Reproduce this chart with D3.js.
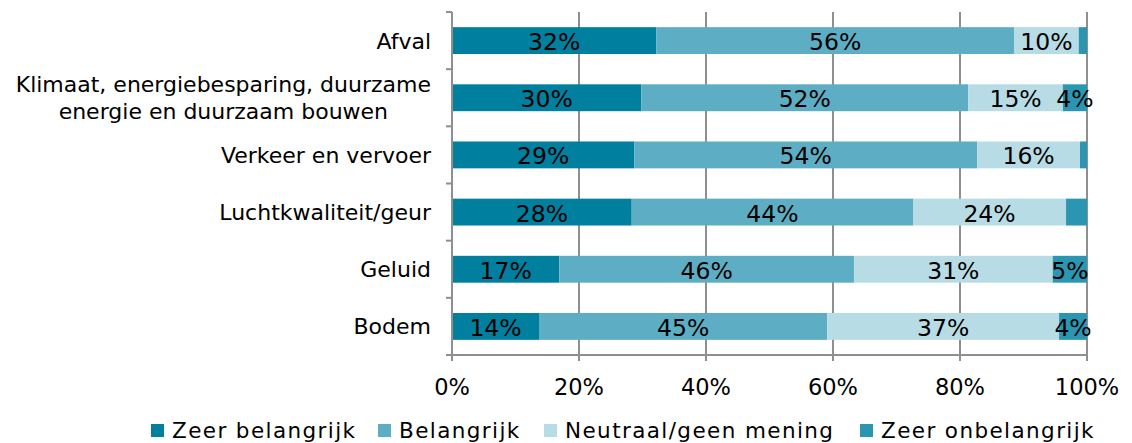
<!DOCTYPE html>
<html><head><meta charset="utf-8">
<script src="https://cdn.jsdelivr.net/npm/d3@7"></script>
<style>body{margin:0;background:#fff}svg{display:block}text{font-family:"DejaVu Sans",Verdana,sans-serif}</style>
</head><body><svg id="c" width="1132" height="443"></svg>
<script>
const categories = ["Afval", "Klimaat, energiebesparing, duurzame|energie en duurzaam bouwen", "Verkeer en vervoer", "Luchtkwaliteit/geur", "Geluid", "Bodem"];
const seriesNames = ["Zeer belangrijk", "Belangrijk", "Neutraal/geen mening", "Zeer onbelangrijk"];
const zeerBelangrijk = [32.2, 29.8, 28.7, 28.3, 16.9, 13.7];
const belangrijk = [56.3, 51.5, 54.0, 44.3, 46.4, 45.4];
const neutraal = [10.2, 14.9, 16.2, 24.1, 31.3, 36.5];
const zeerOnbelangrijk = [1.3, 3.8, 1.1, 3.3, 5.4, 4.4];
const colors = ["#007f9f", "#5daec4", "#b7dce5", "#2a96b2"];
const xTicks = [0, 20, 40, 60, 80, 100];

const svg = d3.select("#c");
const m = {l: 452, r: 1087, t: 12, b: 355};
const x = d3.scaleLinear().domain([0, 100]).range([m.l, m.r]);
const y = d3.scaleBand().domain(categories).range([m.t, m.b]).paddingInner(0.53).paddingOuter(0.265);

const series = [zeerBelangrijk, belangrijk, neutraal, zeerOnbelangrijk];
const rows = categories.map((c, i) => {
  const o = {cat: c}; seriesNames.forEach((s, k) => o[s] = series[k][i]); return o;
});
const stacked = d3.stack().keys(seriesNames).offset(d3.stackOffsetExpand)(rows);

// gridlines
svg.append("g").selectAll("line").data(xTicks.slice(1)).join("line")
  .attr("x1", d => x(d)).attr("x2", d => x(d)).attr("y1", m.t).attr("y2", m.b)
  .attr("stroke", "#8f8f8f").attr("stroke-width", 2);

// bars
const g = svg.append("g").selectAll("g").data(stacked).join("g").attr("fill", (d, i) => colors[i]);
g.selectAll("rect").data(d => d).join("rect")
  .attr("x", d => x(d[0] * 100)).attr("width", d => x(d[1] * 100) - x(d[0] * 100))
  .attr("y", d => y(d.data.cat)).attr("height", y.bandwidth());

// labels
const lab = svg.append("g");
stacked.forEach((s, k) => {
  s.forEach(d => {
    const v = d.data[s.key];
    if (v < 3.5) return;
    lab.append("text").attr("x", x((d[0] + d[1]) / 2 * 100)).attr("y", y(d.data.cat) + y.bandwidth() / 2 + 9.5)
      .attr("text-anchor", "middle").attr("font-size", 23.5).attr("fill", "#000").text(Math.round(v) + "%");
  });
});

// y axis
const ya = svg.append("g");
ya.append("line").attr("x1", m.l).attr("x2", m.l).attr("y1", m.t).attr("y2", m.b).attr("stroke", "#8f8f8f").attr("stroke-width", 2);
d3.range(categories.length + 1).forEach(i => {
  const yy = m.t + i * (m.b - m.t) / categories.length;
  ya.append("line").attr("x1", m.l - 6).attr("x2", m.l).attr("y1", yy).attr("y2", yy).attr("stroke", "#8f8f8f").attr("stroke-width", 2);
});
categories.forEach(c => {
  const lines = c.split("|");
  const cy = y(c) + y.bandwidth() / 2;
  const lh = 27;
  const t0 = cy - (lines.length - 1) * lh / 2 + 8;
  const first = ya.append("text").attr("x", 431).attr("y", t0).attr("text-anchor", "end").attr("font-size", 22).text(lines[0]);
  if (lines.length > 1) {
    const w = first.node().getComputedTextLength();
    lines.slice(1).forEach((ln, j) => {
      ya.append("text").attr("x", 431 - w / 2).attr("y", t0 + (j + 1) * lh).attr("text-anchor", "middle").attr("font-size", 22).text(ln);
    });
  }
});

// x axis
const xa = svg.append("g");
xa.append("line").attr("x1", m.l).attr("x2", m.r).attr("y1", m.b).attr("y2", m.b).attr("stroke", "#8f8f8f").attr("stroke-width", 2);
xa.selectAll(".t").data(xTicks).join("line").attr("x1", d => x(d)).attr("x2", d => x(d)).attr("y1", m.b).attr("y2", m.b + 6).attr("stroke", "#8f8f8f").attr("stroke-width", 2);
xa.selectAll("text").data(xTicks).join("text").attr("x", d => x(d)).attr("y", 395).attr("text-anchor", "middle").attr("font-size", 22.5).text(d => d + "%");

// legend
const legX = [151, 378, 544, 860];
const leg = svg.append("g");
seriesNames.forEach((s, i) => {
  leg.append("rect").attr("x", legX[i]).attr("y", 424).attr("width", 13).attr("height", 13).attr("fill", colors[i]);
  leg.append("text").attr("x", legX[i] + 21).attr("y", 438).attr("font-size", 21.5).attr("letter-spacing", 1.4).text(s);
});
</script></body></html>
